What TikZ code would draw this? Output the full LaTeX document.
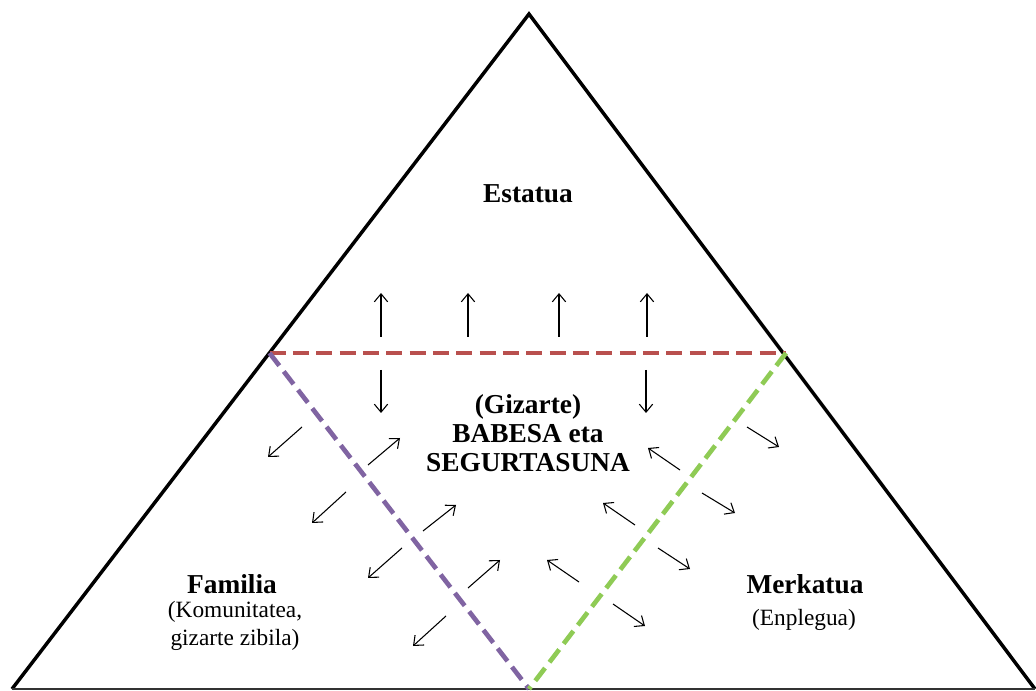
\documentclass[tikz,border=0pt]{standalone}
\usepackage{fontspec}
\setmainfont{Liberation Serif}
\usetikzlibrary{arrows.meta}

\definecolor{lred}{HTML}{B9504E}
\definecolor{lpurple}{HTML}{8064A2}
\definecolor{lgreen}{HTML}{8FCB55}

\begin{document}
\begin{tikzpicture}[x=0.75pt,y=-0.75pt,
  side/.style={draw=black,line width=2.6pt,line join=miter},
  split/.style={line width=3.5pt,dash pattern=on 12pt off 5.5pt},
  flow/.style={draw=black,line width=0.8pt,-{Straight Barb[length=6pt,width=10pt]}},
  title/.style={align=center,font=\fontsize{20.5}{21.5}\selectfont\bfseries},
  sub/.style={align=center,font=\fontsize{17.5}{21}\selectfont}]
\useasboundingbox (0,0) rectangle (1036,691);

% corners of the pyramid
\coordinate (top) at (529,14);
\coordinate (bl) at (12,689);
\coordinate (br) at (1035,689);
\coordinate (pl) at (269.5,353);
\coordinate (pr) at (786,353);
\coordinate (pb) at (529,689);

\draw [side] (bl) -- (top) -- (br);
\draw [draw=black!80,line width=1.2pt] (bl) -- (br);

% the three inner borders
\path [draw=lred,split] (pl) edge (pr);
\path [draw=lpurple,split] (pl) edge (pb);
\path [draw=lgreen,split] (pr) edge (pb);

% labels
\node[title] (estatua) at (528,194) {Estatua};
\node[title] (babesa) at (528,433) {(Gizarte)\\BABESA eta\\SEGURTASUNA};
\node[title] (familia) at (232,584) {Familia};
\node[sub] (familiasub) at (235,626) {(Komunitatea,\\gizarte zibila)};
\node[title] (merkatua) at (805,584) {Merkatua};
\node[sub] (merkatuasub) at (804,620) {(Enplegua)};

% exchanges across the borders
\foreach \xa/\ya/\xb/\yb in {381/337/381/293, 468/337/468/293, 559/337/559/293,
    647/337/647/293, 381/370/381/413, 646/370/646/413,
    302/427/268/457, 346/492/312/523, 402/548/368/578, 446/616/413/646,
    368/465/400/438, 423/531/456/505, 468/588/500/560,
    747/427/779/447, 702/493/735/513, 658/548/690/569, 613/604/645/626,
    680/470/648/448, 635/525/603/503, 579/582/547/560}
  \draw [flow] (\xa,\ya) -- (\xb,\yb);
\end{tikzpicture}
\end{document}
